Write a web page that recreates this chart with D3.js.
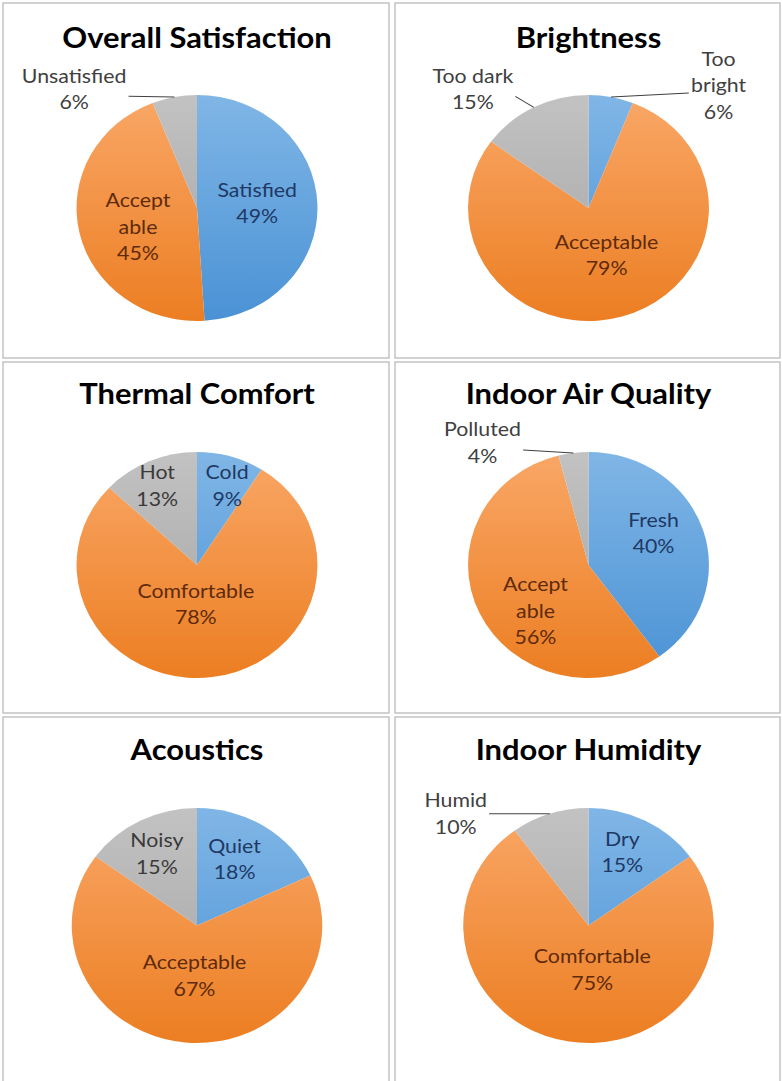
<!DOCTYPE html>
<html>
<head>
<meta charset="utf-8">
<script src="https://cdn.jsdelivr.net/npm/d3@7"></script>
<style>
  body { margin: 0; background: #fff; }
  text { font-family: Lato, "Open Sans", sans-serif; }
</style>
</head>
<body>
<div id="chart"></div>
<script>
// data
var chartTitles = ["Overall Satisfaction", "Brightness", "Thermal Comfort", "Indoor Air Quality", "Acoustics", "Indoor Humidity"];

var overallCats = ["Satisfied", "Acceptable", "Unsatisfied"];
var overallVals = [49, 45, 6];
var brightCats = ["Too bright", "Acceptable", "Too dark"];
var brightVals = [6, 79, 15];
var thermalCats = ["Cold", "Comfortable", "Hot"];
var thermalVals = [9, 78, 13];
var airCats = ["Fresh", "Acceptable", "Polluted"];
var airVals = [40, 56, 4];
var acousticCats = ["Quiet", "Acceptable", "Noisy"];
var acousticVals = [18, 67, 15];
var humidityCats = ["Dry", "Comfortable", "Humid"];
var humidityVals = [15, 75, 10];

// label placement (fraction of radius from pie centre) and where labels wrap
var charts = [
  { title: chartTitles[0], cats: overallCats, vals: overallVals, breakAt: {1: 6},
    labelAt: [[0.50, -0.04], [-0.49, 0.17], [-1.02, -1.05]] },
  { title: chartTitles[1], cats: brightCats, vals: brightVals, breakAt: {0: 3},
    labelAt: [[1.08, -1.08], [0.15, 0.42], [-0.96, -1.05]] },
  { title: chartTitles[2], cats: thermalCats, vals: thermalVals, breakAt: {},
    labelAt: [[0.25, -0.70], [-0.01, 0.35], [-0.33, -0.70]] },
  { title: chartTitles[3], cats: airCats, vals: airVals, breakAt: {1: 6},
    labelAt: [[0.54, -0.28], [-0.44, 0.41], [-0.88, -1.08]] },
  { title: chartTitles[4], cats: acousticCats, vals: acousticVals, breakAt: {},
    labelAt: [[0.30, -0.56], [-0.02, 0.43], [-0.32, -0.61]] },
  { title: chartTitles[5], cats: humidityCats, vals: humidityVals, breakAt: {},
    labelAt: [[0.27, -0.62], [0.03, 0.38], [-1.06, -0.95]] }
];

var svgWidth = 782;
var svgHeight = 1081;

var cols = [{x: 3, w: 386}, {x: 395, w: 385}];
var rows = [
  {y: 3, h: 355, cy: 205, r: 113, ty: 45},
  {y: 362, h: 351, cy: 203, r: 113, ty: 42},
  {y: 717, h: 380, cy: 208.5, r: 117.5, ty: 43}
];
var stretch = 1.066;   // the picture is a little wider than tall
var lineH = 26.5;

var sliceColors = [["#80b6e6", "#4a92d5"], ["#f9a767", "#ec7e22"], ["#c2c2c2", "#a3a3a3"]];
var textColors = ["#1f3864", "#5e2a0c", "#3a3a3a"];
var outsideColor = "#404040";

var svg = d3.select("#chart")
  .append("svg")
  .attr("width", svgWidth)
  .attr("height", svgHeight);

var defs = svg.append("defs");

charts.forEach(function(c, i) {
  var col = cols[i % 2];
  var row = rows[Math.floor(i / 2)];
  var r = row.r;

  svg.append("rect")
    .attr("x", col.x)
    .attr("y", row.y)
    .attr("width", col.w)
    .attr("height", row.h)
    .attr("fill", "#fff")
    .attr("stroke", "#c3c3c3")
    .attr("stroke-width", 1.5);

  var cx = col.x + col.w / 2 + 1;
  var g = svg.append("g")
    .attr("transform", `translate(${cx}, ${row.y + row.cy}) scale(${stretch}, 1)`);

  g.append("text")
    .attr("x", 0)
    .attr("y", row.ty - row.cy)
    .attr("text-anchor", "middle")
    .attr("font-size", 29)
    .attr("font-weight", 700)
    .attr("fill", "#000")
    .text(c.title);

  sliceColors.forEach(function(sc, j) {
    var lg = defs.append("linearGradient")
      .attr("id", `grad${i}_${j}`)
      .attr("gradientUnits", "userSpaceOnUse")
      .attr("x1", 0).attr("x2", 0)
      .attr("y1", -r).attr("y2", r);
    lg.append("stop").attr("offset", "0%").attr("stop-color", sc[0]);
    lg.append("stop").attr("offset", "100%").attr("stop-color", sc[1]);
  });

  var pie = d3.pie().sort(null).value(d => d.v);
  var arc = d3.arc().innerRadius(0).outerRadius(r);
  var slices = pie(c.cats.map(function(k, j) { return {k: k, v: c.vals[j], j: j}; }));

  g.selectAll("path.slice")
    .data(slices)
    .enter()
    .append("path")
    .classed("slice", true)
    .attr("d", arc)
    .attr("fill", d => `url(#grad${i}_${d.data.j})`);

  // data labels
  slices.forEach(function(s, j) {
    var pos = c.labelAt[j];
    var lx = pos[0] * r, ly = pos[1] * r;
    var outside = Math.hypot(pos[0], pos[1]) > 1;
    var name = s.data.k;
    var b = c.breakAt[j];
    var lines = b ? [name.slice(0, b).trim(), name.slice(b).trim()] : [name];
    lines.push(s.data.v + "%");

    var first = ly + 6.5 - (lines.length - 1) * lineH / 2;
    var t = g.append("text")
      .attr("text-anchor", "middle")
      .attr("font-size", 20)
      .attr("fill", outside ? outsideColor : textColors[j]);
    lines.forEach(function(ln, k) {
      t.append("tspan").attr("x", lx).attr("y", first + k * lineH).text(ln);
    });

    if (outside) {
      var w = d3.max(t.selectAll("tspan").nodes(), n => n.getComputedTextLength());
      var mid = (s.startAngle + s.endAngle) / 2;
      var px = Math.sin(mid) * r, py = -Math.cos(mid) * r;
      var sx = lx < px ? lx + w / 2 + 2 : lx - w / 2 - 2;
      var sy = Math.min(py, ly + 7);
      g.append("line")
        .attr("x1", sx).attr("y1", sy)
        .attr("x2", px).attr("y2", py)
        .attr("stroke", outsideColor)
        .attr("stroke-width", 1);
    }
  });
});
</script>
</body>
</html>
